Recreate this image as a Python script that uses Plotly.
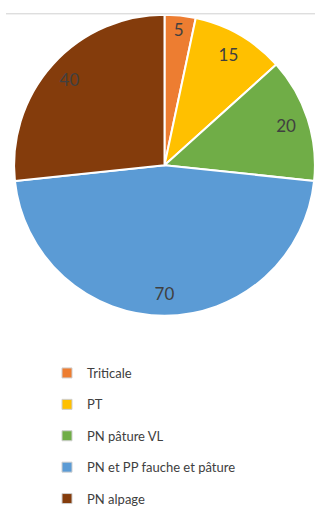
import plotly.graph_objects as go

categories = ["Triticale", "PT", "PN pâture VL", "PN et PP fauche et pâture", "PN alpage"]
values = [5, 15, 20, 70, 40]
colors = ["#ED7D31", "#FFC000", "#70AD47", "#5B9BD5", "#843C0C"]

W, H = 315, 514
fig = go.Figure()

pie_domain = dict(x=[14 / W, 1.0], y=[1 - 320 / H, 1 - 15 / H])

# main pie
fig.add_trace(go.Pie(
    labels=categories, values=values, sort=False, direction="clockwise", rotation=0,
    marker=dict(colors=colors, line=dict(color="white", width=2)),
    textinfo="none", showlegend=False, domain=pie_domain, hoverinfo="label+value",
))
# transparent ring used to place the value labels near the rim
fig.add_trace(go.Pie(
    labels=categories, values=values, sort=False, direction="clockwise", rotation=0,
    hole=0.7,
    marker=dict(colors=["rgba(0,0,0,0)"] * len(values), line=dict(width=0)),
    textinfo="value", textposition="inside", insidetextorientation="horizontal",
    insidetextfont=dict(family="Lato", size=17, color="#404040"),
    showlegend=False, domain=pie_domain, hoverinfo="skip",
))

# legend entries
for name, c in zip(categories, colors):
    fig.add_trace(go.Scatter(
        x=[None], y=[None], mode="markers", name=name, legendgroup=name,
        marker=dict(symbol="square", size=10, color=c, line=dict(color="#cfcfcf", width=1)),
    ))

fig.add_shape(type="line", xref="paper", yref="paper", x0=6 / W, x1=1,
              y0=1 - 14 / H, y1=1 - 14 / H, line=dict(color="#d0d0d0", width=1))

fig.update_layout(
    width=W, height=H, margin=dict(l=0, r=0, t=0, b=0),
    paper_bgcolor="white", plot_bgcolor="white",
    uniformtext=dict(minsize=17, mode="show"),
    xaxis=dict(visible=False), yaxis=dict(visible=False),
    showlegend=True,
    legend=dict(x=47 / W, y=1 - 363 / H, xanchor="left", yanchor="top",
                font=dict(family="Lato", size=13, color="#404040"),
                tracegroupgap=11.5, itemclick=False, bgcolor="rgba(0,0,0,0)"),
)

fig.write_html(
    "out.html",
    config={"displayModeBar": False},
    post_script=(
        "document.body.style.margin='0';"
        "var gd=document.getElementById('{plot_id}');"
        "gd.style.position='absolute';gd.style.left='0px';gd.style.top='0px';"
    ),
)
